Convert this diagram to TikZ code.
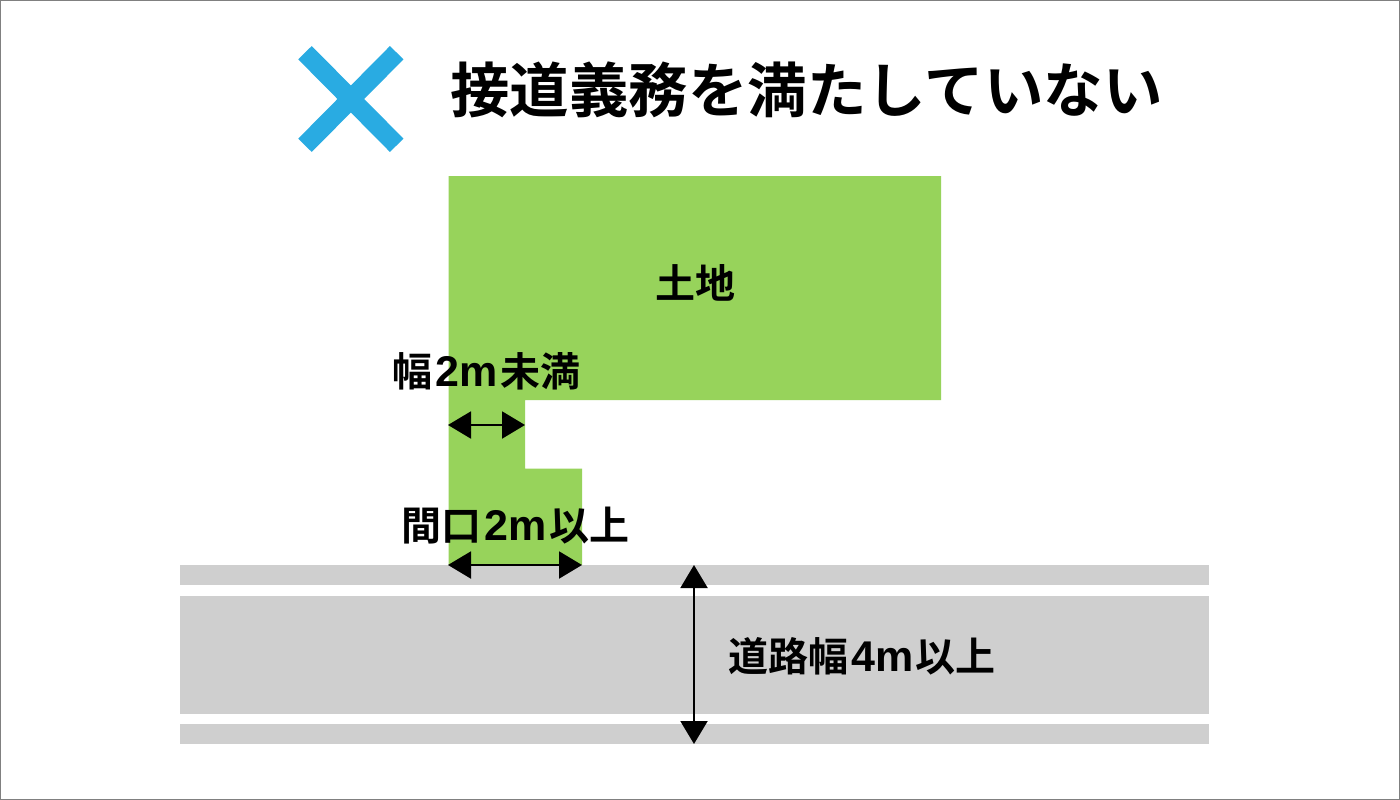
\documentclass[tikz,border=0pt]{standalone}
\usepackage{fontspec}
\usetikzlibrary{arrows.meta}
\setmainfont{Noto Sans CJK JP Bold}
\newfontfamily\latinf{Liberation Sans Bold}
\newcommand{\ltn}[1]{\kern3pt{\latinf\fontsize{43}{43}\selectfont #1}\kern2pt}
\definecolor{landgreen}{HTML}{97D35B}
\definecolor{roadgrey}{HTML}{CFCFCF}
\definecolor{crossblue}{HTML}{29ABE2}
\definecolor{frameGrey}{HTML}{808080}
\tikzset{
  x=1pt,y=-1pt,
  lbl/.style={inner sep=0pt,text=black,font=\fontsize{40}{40}\selectfont},
  ttl/.style={inner sep=0pt,text=black,font=\fontsize{59.5}{60}\selectfont},
  dimarrow/.style={draw=black,line width=2pt,{Triangle[length=23pt,width=27pt]}-{Triangle[length=23pt,width=27pt]}},
  road/.style={fill=roadgrey,draw=none},
  crossbar/.style={draw=crossblue,line width=19pt},
}
\begin{document}
\begin{tikzpicture}
\useasboundingbox (0,0) rectangle (1400,800);
\fill[white] (0,0) rectangle (1400,800);
\draw[frameGrey,line width=1pt] (0.5,0.5) rectangle (1399.5,799.5);
% cross
\coordinate (tl) at (305,52.7); \coordinate (br) at (396.7,145.3);
\coordinate (tr) at (396.7,52.7); \coordinate (bl) at (305,145.3);
\draw[crossbar] (tl) -- (br);
\draw[crossbar] (tr) -- (bl);
\node[ttl,anchor=center] (title) at (806.5,90) {接道義務を満たしていない};
% land
\fill[landgreen] (448.5,176) -- (941,176) -- (941,400) -- (525,400) -- (525,468.5) -- (582,468.5) -- (582,565) -- (448.5,565) -- cycle;
% road
\fill[road] (180,565) rectangle (1209,585);
\fill[road] (180,595.5) rectangle (1209,714);
\fill[road] (180,724) rectangle (1209,744);
% labels
\node[lbl] (land) at (695.5,283) {土地};
\node[lbl] (w1) at (486.5,371.5) {幅\ltn{2m}未満};
\node[lbl] (w2) at (515.5,525.5) {間口\ltn{2m}以上};
\node[lbl] (w3) at (862,656.5) {道路幅\ltn{4m}以上};
% arrows
\coordinate (a1) at (448,425); \coordinate (a2) at (525,425);
\coordinate (b1) at (448,565); \coordinate (b2) at (582,565);
\coordinate (c1) at (694,565); \coordinate (c2) at (694,744);
\draw[dimarrow] (a1) -- (a2);
\draw[dimarrow] (b1) -- (b2);
\draw[dimarrow] (c1) -- (c2);
\end{tikzpicture}
\end{document}
